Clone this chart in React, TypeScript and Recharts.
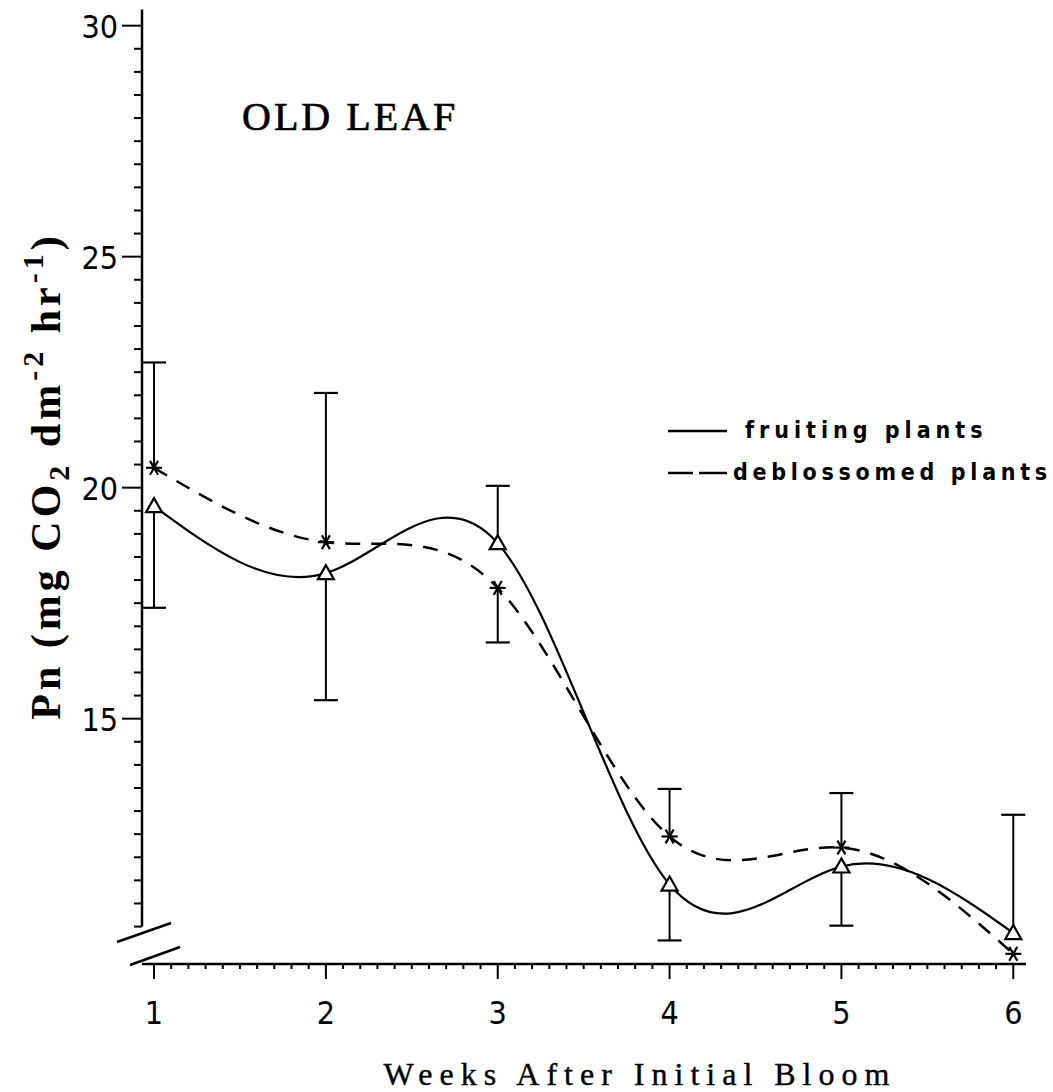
import React from "react";
import {
  ComposedChart,
  Line,
  Scatter,
  XAxis,
  YAxis,
  ReferenceLine,
} from "recharts";

// values
const WEEKS = [1, 2, 3, 4, 5, 6];
const FRUITING = [19.6, 18.15, 18.8, 11.41, 11.8, 10.36];
const DEBLOSSOMED = [20.43, 18.82, 17.83, 12.45, 12.21, 9.91];

// error bars are drawn one-sided (away from the other curve): end value of each bar
const FRUITING_BAR_END = [17.4, 15.4, 20.04, 10.2, 10.52, 12.92];
const DEBLOSSOMED_BAR_END = [22.71, 22.05, 16.65, 13.48, 13.39, null];

const X_TICK_LABELS = [1, 2, 3, 4, 5, 6];
const Y_TICK_LABELS = [15, 20, 25, 30];
const X_MINOR_STEP = 0.1;
const Y_MINOR_STEP = 0.5;

const X_DOMAIN: [number, number] = [0.93, 6.074];
const Y_DOMAIN: [number, number] = [9.69, 30.35];
const Y_AXIS_BOTTOM = 10.5;

const W = 1053;
const H = 1092;

const rows = WEEKS.map((w, i) => ({
  week: w,
  fruiting: FRUITING[i],
  deblossomed: DEBLOSSOMED[i],
}));

const fruitingCaps = WEEKS.map((w, i) => ({ week: w, end: FRUITING_BAR_END[i] })).filter(
  (d) => d.end != null,
);
const deblossomedCaps = WEEKS.map((w, i) => ({ week: w, end: DEBLOSSOMED_BAR_END[i] })).filter(
  (d) => d.end != null,
);

const xTicks: number[] = [];
for (let i = 0; i <= 50; i++) xTicks.push(Math.round((1 + i * X_MINOR_STEP) * 10) / 10);
const yTicks: number[] = [];
for (let v = Y_AXIS_BOTTOM; v <= 30.001; v += Y_MINOR_STEP) yTicks.push(Math.round(v * 10) / 10);

const tickFont = "'DejaVu Sans Condensed', 'DejaVu Sans', sans-serif";

const YTick = (props: any) => {
  const { x, y, payload } = props;
  const major = Y_TICK_LABELS.includes(payload.value);
  return (
    <g>
      <line x1={x - (major ? 20 : 8)} x2={x} y1={y} y2={y} stroke="#000" strokeWidth={2} />
      {major && (
        <text x={x - 24} y={y + 12} textAnchor="end" fontFamily={tickFont} fontSize={32} fill="#000">
          {payload.value}
        </text>
      )}
    </g>
  );
};

const XTick = (props: any) => {
  const { x, y, payload } = props;
  const major = X_TICK_LABELS.includes(payload.value);
  return (
    <g>
      <line x1={x} x2={x} y1={y} y2={y + (major ? 15 : 5)} stroke="#000" strokeWidth={2} />
      {major && (
        <text x={x} y={y + 60} textAnchor="middle" fontFamily={tickFont} fontSize={32} fill="#000">
          {payload.value}
        </text>
      )}
    </g>
  );
};

const Triangle = (props: any) => {
  const { cx, cy } = props;
  if (cx == null || cy == null) return null;
  return (
    <polygon
      points={`${cx},${cy - 8} ${cx - 8},${cy + 6} ${cx + 8},${cy + 6}`}
      fill="#fff"
      stroke="#000"
      strokeWidth={2.2}
    />
  );
};

const Asterisk = (props: any) => {
  const { cx, cy } = props;
  if (cx == null || cy == null) return null;
  const r = 8;
  const dx = r * 0.5;
  const dy = r * 0.866;
  return (
    <g stroke="#000" strokeWidth={2.2}>
      <line x1={cx - r} y1={cy} x2={cx + r} y2={cy} />
      <line x1={cx - dx} y1={cy - dy} x2={cx + dx} y2={cy + dy} />
      <line x1={cx - dx} y1={cy + dy} x2={cx + dx} y2={cy - dy} />
    </g>
  );
};

const Cap = (props: any) => {
  const { cx, cy } = props;
  if (cx == null || cy == null) return null;
  return <line x1={cx - 12} x2={cx + 12} y1={cy} y2={cy} stroke="#000" strokeWidth={2.2} />;
};

const legendFont = "'DejaVu Sans Condensed', 'DejaVu Sans', sans-serif";

export default function App() {
  return (
    <div style={{ position: "absolute", left: 0, top: 0, width: W, height: H, background: "#fff" }}>
      <ComposedChart
        width={W}
        height={H}
        data={rows}
        margin={{ top: 9.5, right: 27, left: 0, bottom: 0 }}
      >
        <XAxis
          dataKey="week"
          type="number"
          domain={X_DOMAIN}
          ticks={xTicks}
          interval={0}
          height={128}
          tickSize={0}
          tickMargin={0}
          tickLine={false}
          axisLine={{ stroke: "#000", strokeWidth: 2.5 }}
          tick={<XTick />}
          allowDataOverflow
        />
        <YAxis
          type="number"
          domain={Y_DOMAIN}
          ticks={yTicks}
          interval={0}
          width={142}
          tickSize={0}
          tickMargin={0}
          tickLine={false}
          axisLine={false}
          tick={<YTick />}
          allowDataOverflow
        />
        {/* y axis stops above the break */}
        <ReferenceLine
          segment={[
            { x: X_DOMAIN[0], y: Y_DOMAIN[1] },
            { x: X_DOMAIN[0], y: Y_AXIS_BOTTOM },
          ]}
          stroke="#000"
          strokeWidth={2.5}
          ifOverflow="visible"
        />
        {/* error bar stems */}
        {WEEKS.map((w, i) => (
          <ReferenceLine
            key={"fs" + i}
            segment={[
              { x: w, y: FRUITING[i] },
              { x: w, y: FRUITING_BAR_END[i] as number },
            ]}
            stroke="#000"
            strokeWidth={2}
            ifOverflow="visible"
          />
        ))}
        {WEEKS.map((w, i) =>
          DEBLOSSOMED_BAR_END[i] == null ? null : (
            <ReferenceLine
              key={"ds" + i}
              segment={[
                { x: w, y: DEBLOSSOMED[i] },
                { x: w, y: DEBLOSSOMED_BAR_END[i] as number },
              ]}
              stroke="#000"
              strokeWidth={2}
              ifOverflow="visible"
            />
          ),
        )}
        <Scatter data={fruitingCaps} dataKey="end" shape={<Cap />} isAnimationActive={false} />
        <Scatter data={deblossomedCaps} dataKey="end" shape={<Cap />} isAnimationActive={false} />
        <Line
          type="natural"
          dataKey="deblossomed"
          stroke="#000"
          strokeWidth={2.5}
          strokeDasharray="15 11"
          dot={<Asterisk />}
          activeDot={false}
          isAnimationActive={false}
        />
        <Line
          type="natural"
          dataKey="fruiting"
          stroke="#000"
          strokeWidth={2.2}
          dot={<Triangle />}
          activeDot={false}
          isAnimationActive={false}
        />
      </ComposedChart>

      <svg
        width={W}
        height={H}
        style={{ position: "absolute", left: 0, top: 0, pointerEvents: "none" }}
      >
        {/* axis break marks */}
        <line x1={117} y1={942} x2={171} y2={923} stroke="#000" strokeWidth={2.5} />
        <line x1={130} y1={965} x2={180} y2={947} stroke="#000" strokeWidth={2.5} />

        <text
          x={242}
          y={130}
          fontFamily="'Liberation Serif', serif"
          fontSize={40}
          letterSpacing={3}
          fill="#000"
          stroke="#000"
          strokeWidth={0.7}
        >
          OLD LEAF
        </text>

        <text
          transform="translate(60, 476) rotate(-90)"
          textAnchor="middle"
          fontFamily="'Liberation Serif', serif"
          fontWeight="bold"
          fontSize={42}
          letterSpacing={4}
          fill="#000"
        >
          Pn (mg CO
          <tspan dy={9} fontSize={30}>2</tspan>
          <tspan dy={-9}> dm</tspan>
          <tspan dy={-17} fontSize={30}>-2</tspan>
          <tspan dy={17}> hr</tspan>
          <tspan dy={-17} fontSize={30}>-1</tspan>
          <tspan dy={17}>)</tspan>
        </text>

        <text
          x={640}
          y={1085}
          textAnchor="middle"
          fontFamily="'Liberation Serif', serif"
          fontSize={32}
          letterSpacing={7}
          fill="#000"
          stroke="#000"
          strokeWidth={0.4}
        >
          Weeks After Initial Bloom
        </text>

        {/* legend */}
        <line x1={668} y1={431} x2={727} y2={431} stroke="#000" strokeWidth={2.5} />
        <text x={745} y={438} fontFamily={legendFont} fontWeight="bold" fontSize={23} letterSpacing={5} fill="#000">
          fruiting plants
        </text>
        <line x1={668} y1={473} x2={693} y2={473} stroke="#000" strokeWidth={2.5} />
        <line x1={699} y1={473} x2={727} y2={473} stroke="#000" strokeWidth={2.5} />
        <text x={733} y={480} fontFamily={legendFont} fontWeight="bold" fontSize={23} letterSpacing={4.7} fill="#000">
          deblossomed plants
        </text>
      </svg>
    </div>
  );
}
